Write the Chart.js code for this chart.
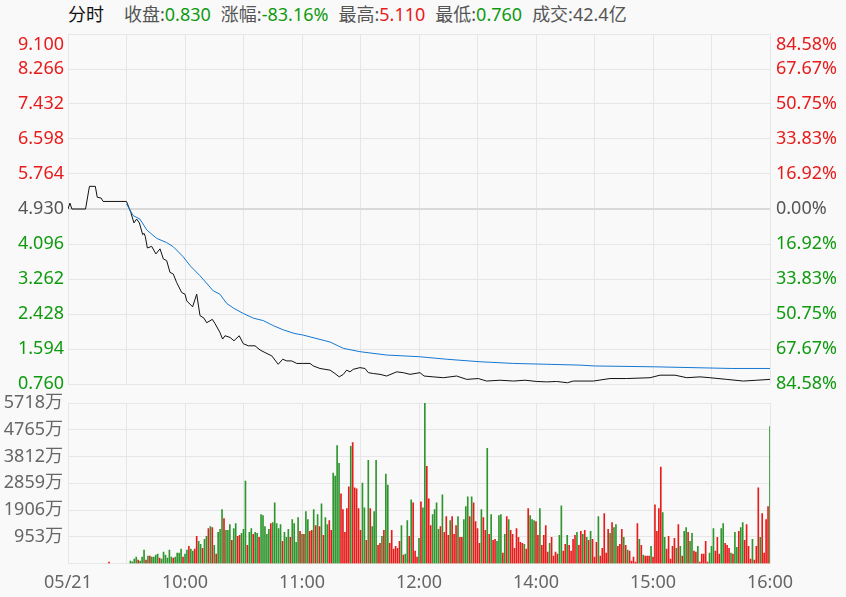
<!DOCTYPE html>
<html>
<head>
<meta charset="utf-8">
<script src="https://cdn.jsdelivr.net/npm/chart.js@4.4.0/dist/chart.umd.min.js"></script>
<style>
    body { margin: 0; background: #f9f9f9; width: 846px; height: 597px; overflow: hidden; position: relative;
           font-family: 'Noto Sans', 'Noto Sans CJK SC', sans-serif; }
    #title { position: absolute; left: 68px; top: 3px; font-size: 18px; line-height: 22px; color: #555; white-space: nowrap; }
    #title span { margin-right: 10px; }
    #title .name { color: #111; margin-right: 20px; }
    #title i { font-style: normal; }
    .up { color: #e81b1b; }
    .down { color: #109a10; }
    #priceChart { position: absolute; left: 0; top: 0; }
    #volChart { position: absolute; left: 0; top: 387px; }
</style>
</head>
<body>
<div id="title">
    <span class="name">分时</span><span>收盘:<i class="down">0.830</i></span><span>涨幅:<i class="down">-83.16%</i></span><span>最高:<i class="up">5.110</i></span><span>最低:<i class="down">0.760</i></span><span>成交:42.4亿</span>
</div>
<canvas id="priceChart" width="846" height="403"></canvas>
<canvas id="volChart" width="846" height="210"></canvas>

<script>
// --- Dữ liệu (phút tính từ 09:00, nghỉ trưa bị bỏ qua) ---
const preClose = 4.930;

const priceTicks = [0.760, 1.594, 2.428, 3.262, 4.096, 4.930, 5.764, 6.598, 7.432, 8.266, 9.100];
const pctLabels = ['84.58%', '67.67%', '50.75%', '33.83%', '16.92%', '0.00%', '16.92%', '33.83%', '50.75%', '67.67%', '84.58%'];
const volTicks = [0, 953, 1906, 2859, 3812, 4765, 5718];
const gridMinutes = [0, 30, 60, 90, 120, 150, 180, 210, 240, 270, 300, 330, 360];
const labelMinutes = [0, 60, 120, 180, 240, 300, 360];
const labelTexts = ['05/21', '10:00', '11:00', '12:00', '14:00', '15:00', '16:00'];

// giá khớp lệnh
const priceMin = [0, 1, 2, 9, 11, 14, 15, 17, 18, 30,
    32.2, 33.8, 35.2, 36.6, 38.3, 39, 39.6, 40.7, 42.9, 45.1, 47.2, 48.9, 50.6, 52.3, 54, 55.7, 58.3, 60,
    60.9, 63.9, 66, 67.7, 69.7, 71.1, 74, 75.4, 77.9, 79.3, 80.5, 83.1, 85.1, 87.8, 89.9, 92.5, 95.9,
    98.5, 101, 104.5, 107.8, 110.1, 112.2, 114.7, 117.3, 120.2, 124.1, 125.8, 129.2, 134.4, 136.9,
    139.1, 141.2, 142.9, 144.6, 146.3, 149.7, 152.3, 154, 156.6, 160, 163.4, 168.6, 171.9, 175.4,
    180.5, 182.6, 187.3, 192.5, 199.3, 204.5, 210.4, 214.7, 221.5, 228.4, 234.4, 240.4, 245.5, 250.6,
    256.1, 259.1, 262.6, 269.4, 277.9, 286.5, 298.5, 303.6, 311.3, 317.3, 324.1, 329.2, 337.8, 346.3,
    353.2, 360];
const priceVal = [4.93, 5.07, 4.93, 4.93, 5.47, 5.47, 5.21, 5.19, 5.11, 5.11,
    4.85, 4.60, 4.69, 4.60, 4.32, 4.35, 4.28, 4.00, 4.04, 3.86, 3.98, 3.74, 3.70, 3.42, 3.38, 3.18, 2.94, 2.90,
    2.74, 2.60, 2.90, 2.39, 2.33, 2.22, 2.30, 2.20, 1.99, 1.83, 1.91, 1.87, 1.79, 1.91, 1.72, 1.67, 1.67,
    1.57, 1.51, 1.43, 1.23, 1.35, 1.31, 1.31, 1.25, 1.25, 1.25, 1.19, 1.13, 1.09, 1.01,
    0.93, 0.99, 1.09, 1.05, 1.11, 1.15, 1.13, 1.03, 1.01, 0.99, 0.95, 1.05, 1.03, 0.99,
    1.03, 0.95, 0.93, 0.91, 0.95, 0.87, 0.89, 0.83, 0.85, 0.83, 0.85, 0.82, 0.81, 0.82,
    0.79, 0.83, 0.83, 0.83, 0.89, 0.89, 0.91, 0.97, 0.97, 0.91, 0.93, 0.91, 0.87, 0.83,
    0.85, 0.87];

// giá trung bình
const avgMin = [30, 33.5, 36.9, 40.4, 45.5, 50.6, 54, 59.1, 62.6, 67.7, 74.5, 77.9, 81.4, 84.8, 89.9, 95,
    100.2, 105.3, 110.4, 116.4, 120.2, 134.4, 141.2, 149.7, 163.4, 180.2, 194.2, 211.3, 228.4, 245.5,
    262.6, 269.9, 300.2, 340.4, 360];
const avgVal = [5.05, 4.77, 4.69, 4.43, 4.23, 4.13, 4.03, 3.79, 3.58, 3.34, 2.98, 2.90, 2.68, 2.57, 2.44, 2.33,
    2.27, 2.15, 2.05, 1.96, 1.93, 1.76, 1.61, 1.53, 1.45, 1.41, 1.35, 1.29, 1.25, 1.23,
    1.21, 1.19, 1.17, 1.13, 1.13];

// khối lượng (万), mỗi phút một cột, bắt đầu từ phút volStart
const volStart = 32;
const volumes = [
    94, 70, 164, 234, 129, 94, 234, 481, 129, 270,
    270, 234, 234, 305, 340, 199, 164, 410, 305, 199,
    481, 234, 199, 234, 375, 375, 516, 234, 340, 481,
    621, 516, 445, 516, 973, 797, 691, 551, 867, 973,
    1254, 1324, 1289, 656, 340, 1113, 1219, 1922, 1606, 1184,
    1184, 1395, 832, 1254, 1430, 973, 1008, 1078, 1219, 2942,
    656, 1113, 1254, 1043, 1113, 1078, 938, 1746, 1711, 1324,
    1043, 1219, 1430, 1465, 2168, 1430, 1254, 1395, 797, 1113,
    938, 1219, 938, 1570, 1430, 762, 1641, 1149, 1043, 1043,
    1852, 1570, 1149, 1184, 1922, 1360, 1746, 1324, 2133, 1008,
    1641, 1395, 1535, 1184, 3223, 3118, 4207, 3575, 2485, 1922,
    1113, 1957, 2731, 4172, 4313, 2696, 2660, 1957, 1184, 2871,
    1992, 832, 3680, 1957, 1324, 1852, 3680, 656, 727, 973, 1184, 3188,
    2801, 727, 1184, 516, 621, 551, 797, 1360, 305, 340,
    1535, 973, 2274, 2168, 445, 234, 902, 2203, 1992, 5718,
    3469, 2309, 1360, 1746, 1922, 2168, 1219, 1324, 2449, 1113,
    1676, 1008, 1535, 1676, 1043, 1360, 1676, 938, 938, 1570,
    2028, 2379, 1676, 2379, 2168, 1500, 1254, 727, 1922, 1641,
    1184, 4102, 1043, 1746, 832, 867, 797, 1711, 1746, 375,
    1043, 1676, 1570, 1184, 1043, 551,
    1254, 938, 762, 727, 691, 516, 1957, 1711, 1570, 1535,
    1500, 1008, 1957, 656, 1008, 1360, 410, 727, 938, 270,
    410, 340, 1008, 2063, 445, 691, 1008, 656, 445, 867,
    1008, 1113, 656, 1149, 1043, 1184, 938, 832, 1149, 867,
    234, 762, 1676, 270, 551, 1781, 375, 1219, 1078, 1465,
    1289, 1395, 621, 691, 1219, 938, 656, 481, 445, 94,
    234, 59, 1430, 867, 656, 305, 270,
    270, 270, 621, 234, 2098, 1149, 1957, 3434, 1817, 938,
    516, 973, 164, 621, 902, 551, 1395, 621, 270, 1149,
    1289, 1113, 797, 1078, 445, 410, 621, 59, 340, 340,
    797, 59, 375, 621, 1254, 445, 938, 340, 1254, 1430,
    727, 656, 551, 375, 340, 1113, 586, 1149, 1289, 1465,
    832, 1395, 621, 164, 867, 129, 621, 2696, 938, 1781, 375, 1570, 2028, 4876
];
// r = tăng (đỏ), g = giảm (xanh)
const volDirs = (
    'ggggrgggrg' + 'rggggrgggg' + 'ggrggggrgg' + 'rggrrggrgg' + 'rgrgrgggrg' +
    'ggrggrrggg' + 'rggrggrggg' + 'ggrgggggrg' + 'ggrggggrgr' + 'ggrrgrgrgr' +
    'ggrrggggrr' + 'rrrgrrrrrg' + 'grgrgggrrgrg' + 'grrrrrrgrg' + 'grgrrrgrgg' +
    'rrrggggrgr' + 'rrgrrrgrrg' + 'ggrgrrrrgr' + 'rgrgrrgggr' + 'grgrrr' +
    'rrrrgrrggg' + 'rrgrrrrgrr' + 'rrggrrgrrr' + 'rgrrgrgrgr' + 'rrgrrrrrgr' +
    'ggrrrgrgrr' + 'rrrgrgr' + 'rrgrrrrrgg' + 'rrrrrgrgrg' + 'grggrrgrrr' +
    'rrgggrrrgg' + 'rrrgrggrgg' + 'rrrrgrrrgrrrrg'
).split('');

// phiên khớp lệnh trước giờ mở cửa
const auctionMin = [21];
const auctionVol = [60];

// --- Kiểu dáng ---
const FONT = "'Noto Sans', 'Noto Sans CJK SC', sans-serif";
const RED = '#e81b1b';
const GREEN = '#109a10';
const GRID = '#e6e6e6';

function tickColor(v) {
    if (Math.abs(v - preClose) < 1e-6) return '#555';
    return v > preClose ? RED : GREEN;
}

function setTicks(list) {
    return (scale) => { scale.ticks = list.map(v => ({ value: v })); };
}

// Biểu đồ giá
new Chart(document.getElementById('priceChart'), {
    type: 'line',
    data: {
        datasets: [
            {
                data: avgMin.map((t, i) => ({ x: t, y: avgVal[i] })),
                borderColor: '#1478d2',
                borderWidth: 1,
                pointRadius: 0,
                yAxisID: 'y'
            },
            {
                data: priceMin.map((t, i) => ({ x: t, y: priceVal[i] })),
                borderColor: '#111',
                borderWidth: 1,
                pointRadius: 0,
                yAxisID: 'y'
            }
        ]
    },
    options: {
        responsive: false,
        animation: false,
        events: [],
        layout: { padding: { top: 34, bottom: 19, left: 0, right: 0 } },
        plugins: { legend: { display: false }, tooltip: { enabled: false } },
        scales: {
            x: {
                type: 'linear', min: 0, max: 360,
                afterBuildTicks: setTicks(gridMinutes),
                afterFit: (s) => { s.height = 0; },
                ticks: { display: false },
                grid: { color: GRID, drawTicks: false },
                border: { display: false }
            },
            y: {
                position: 'left', min: 0.76, max: 9.1,
                afterBuildTicks: setTicks(priceTicks),
                afterFit: (s) => { s.width = 68; },
                ticks: {
                    autoSkip: false,
                    padding: 4,
                    font: { family: FONT, size: 18 },
                    color: (ctx) => tickColor(ctx.tick.value),
                    callback: (v, i) => {
                        const txt = priceTicks[i].toFixed(3);
                        return i === priceTicks.length - 1 ? ['', txt] : txt;
                    }
                },
                grid: {
                    color: (ctx) => Math.abs(ctx.tick.value - preClose) < 1e-6 ? '#dadada' : GRID,
                    lineWidth: (ctx) => Math.abs(ctx.tick.value - preClose) < 1e-6 ? 2 : 1,
                    drawTicks: false
                },
                border: { display: false }
            },
            yR: {
                position: 'right', min: 0.76, max: 9.1,
                afterBuildTicks: setTicks(priceTicks),
                afterFit: (s) => { s.width = 76; },
                ticks: {
                    autoSkip: false,
                    padding: 6,
                    font: { family: FONT, size: 18 },
                    color: (ctx) => tickColor(ctx.tick.value),
                    callback: (v, i) => i === pctLabels.length - 1 ? ['', pctLabels[i]] : pctLabels[i]
                },
                grid: { display: false, drawTicks: false },
                border: { display: false }
            }
        }
    }
});

// Biểu đồ khối lượng
const volPoints = volumes.map((v, i) => ({ x: volStart + i, y: v }));
const volColors = volumes.map((v, i) => volDirs[i] === 'r' ? RED : '#2f962f');

new Chart(document.getElementById('volChart'), {
    type: 'bar',
    data: {
        datasets: [
            {
                data: volPoints,
                backgroundColor: volColors,
                barThickness: 1
            },
            {
                data: auctionMin.map((t, i) => ({ x: t, y: auctionVol[i] })),
                backgroundColor: RED,
                barThickness: 1
            }
        ]
    },
    options: {
        responsive: false,
        animation: false,
        events: [],
        layout: { padding: { top: 16, bottom: 0, left: 0, right: 76 } },
        plugins: { legend: { display: false }, tooltip: { enabled: false } },
        datasets: { bar: { grouped: false } },
        scales: {
            x: {
                type: 'linear', min: 0, max: 360, offset: false,
                afterBuildTicks: setTicks(gridMinutes),
                afterFit: (s) => { s.height = 33.3; },
                ticks: {
                    autoSkip: false, maxRotation: 0, padding: 8,
                    font: { family: FONT, size: 18 },
                    color: '#666',
                    callback: (v) => {
                        const k = labelMinutes.indexOf(v);
                        return k >= 0 ? labelTexts[k] : '';
                    }
                },
                grid: { color: GRID, drawTicks: false, offset: false },
                border: { display: false }
            },
            y: {
                min: 0, max: 5718,
                afterBuildTicks: setTicks(volTicks),
                afterFit: (s) => { s.width = 68; },
                ticks: {
                    autoSkip: false,
                    padding: 5,
                    font: { family: FONT, size: 18 },
                    color: '#666',
                    callback: (v, i) => i === 0 ? '' : volTicks[i] + '万'
                },
                grid: { color: GRID, drawTicks: false },
                border: { display: false }
            }
        }
    }
});
</script>
</body>
</html>
